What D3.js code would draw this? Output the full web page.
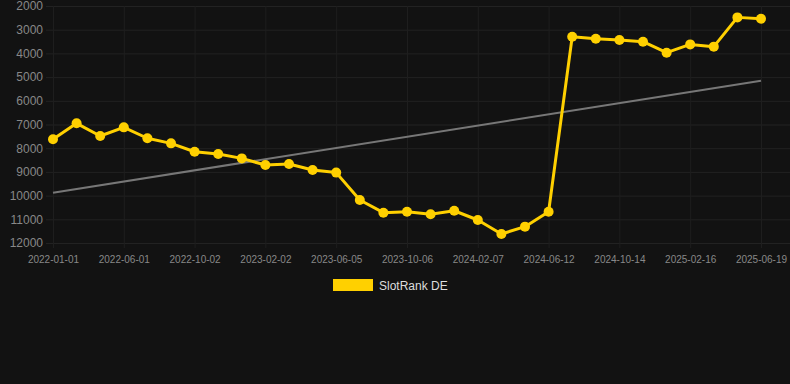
<!DOCTYPE html>
<html><head><meta charset="utf-8">
<script src="https://cdn.jsdelivr.net/npm/d3@7"></script>
<style>html,body{margin:0;padding:0;background:#121212;}svg{display:block;}</style>
</head><body>
<script>
const dates = ["2022-01-01","2022-02-20","2022-04-11","2022-06-01","2022-07-12","2022-08-22","2022-10-02","2022-11-12","2022-12-23","2023-02-02","2023-03-15","2023-04-25","2023-06-05","2023-07-16","2023-08-26","2023-10-06","2023-11-16","2023-12-27","2024-02-07","2024-03-19","2024-05-01","2024-06-12","2024-07-23","2024-09-02","2024-10-14","2024-11-24","2025-01-05","2025-02-16","2025-03-29","2025-05-09","2025-06-19"];
const rank = [7625,6950,7485,7120,7580,7795,8150,8245,8430,8710,8665,8920,9030,10185,10720,10680,10790,10640,11030,11620,11310,10680,3295,3380,3435,3505,3970,3620,3715,2480,2535];
const trend = [9880,5150];
const yTicks = [2000,3000,4000,5000,6000,7000,8000,9000,10000,11000,12000];
const seriesName = "SlotRank DE";

(function(){
const W=790,H=384;
const svg=d3.select("body").append("svg").attr("width",W).attr("height",H);
svg.append("rect").attr("width",W).attr("height",H).attr("fill","#121212");
const pL=53,pR=761,pT=6,pB=243;
const x=d3.scalePoint().domain(dates).range([pL,pR]);
const y=d3.scaleLinear().domain([2000,12000]).range([pT,pB]);

const grid=svg.append("g");
grid.selectAll("line.h").data(yTicks).join("line")
 .attr("x1",46).attr("x2",790).attr("y1",d=>y(d)+0.5).attr("y2",d=>y(d)+0.5)
 .attr("stroke","#222").attr("stroke-width",1);
const labeled=dates.filter((d,i)=>i%3===0);
grid.selectAll("line.v").data(labeled).join("line")
 .attr("x1",d=>x(d)+0.5).attr("x2",d=>x(d)+0.5).attr("y1",pT).attr("y2",pB+5)
 .attr("stroke","#1e1e1e").attr("stroke-width",1);

const ya=svg.append("g").attr("transform",`translate(${pL-10},0)`)
 .call(d3.axisLeft(y).tickValues(yTicks).tickSize(0).tickPadding(0).tickFormat(d3.format("d")));
ya.select(".domain").remove();
ya.selectAll("text").attr("fill","#888").attr("font-family","Arial, 'Liberation Sans', sans-serif").attr("font-size","12px");

const xa=svg.append("g").attr("transform",`translate(0,${pB+8})`)
 .call(d3.axisBottom(x).tickValues(labeled).tickSize(0).tickPadding(5));
xa.select(".domain").remove();
xa.selectAll("text").attr("fill","#888").attr("font-family","Arial, 'Liberation Sans', sans-serif").attr("font-size","10px");

svg.append("line").attr("x1",x(dates[0])).attr("x2",x(dates[dates.length-1]))
 .attr("y1",y(trend[0])).attr("y2",y(trend[1]))
 .attr("stroke","#777").attr("stroke-width",2);

svg.append("path").datum(rank)
 .attr("d",d3.line().x((d,i)=>x(dates[i])).y(d=>y(d)))
 .attr("fill","none").attr("stroke","#FFD000").attr("stroke-width",3).attr("stroke-linejoin","round");
svg.selectAll("circle").data(rank).join("circle")
 .attr("cx",(d,i)=>x(dates[i])).attr("cy",d=>y(d)).attr("r",5).attr("fill","#FFD000");

const lg=svg.append("g");
lg.append("rect").attr("x",333).attr("y",279).attr("width",40).attr("height",12).attr("fill","#FFD000");
lg.append("text").attr("x",379).attr("y",289.5).text(seriesName)
 .attr("fill","#ddd").attr("font-family","Arial, 'Liberation Sans', sans-serif").attr("font-size","12px");
})();
</script>
</body></html>
